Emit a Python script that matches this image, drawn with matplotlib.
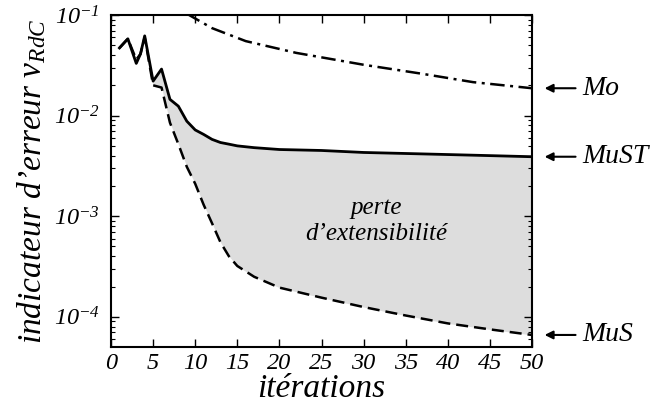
import matplotlib
matplotlib.use('Agg')
import matplotlib.pyplot as plt
from matplotlib.ticker import LogLocator, NullFormatter, FixedLocator

plt.rcParams['font.family'] = ['Liberation Serif', 'DejaVu Serif']
plt.rcParams['font.style'] = 'italic'
plt.rcParams['mathtext.fontset'] = 'custom'
plt.rcParams['mathtext.rm'] = 'Liberation Serif:italic'
plt.rcParams['mathtext.it'] = 'Liberation Serif:italic'
plt.rcParams['mathtext.default'] = 'it'

# données
iterations = [1, 2, 3, 3.5, 4, 5, 6, 7, 8, 9, 10, 11, 12, 13, 14, 15, 17, 20,
              25, 30, 35, 40, 45, 50]
must = [0.047, 0.058, 0.033, 0.041, 0.062, 0.022, 0.029, 0.0145, 0.0124,
        0.0088, 0.0072, 0.0065, 0.0058, 0.0054, 0.0052, 0.0050, 0.0048,
        0.0046, 0.0045, 0.0043, 0.0042, 0.0041, 0.0040, 0.0039]
mus = [0.047, 0.058, 0.036, 0.041, 0.060, 0.020, 0.019, 0.0085, 0.0052,
       0.0031, 0.0021, 0.0013, 8.5e-4, 5.5e-4, 4.0e-4, 3.2e-4, 2.5e-4,
       1.95e-4, 1.55e-4, 1.25e-4, 1.03e-4, 8.6e-5, 7.5e-5, 6.6e-5]
mo_iter = [9, 12, 16, 22, 30, 37, 43, 50]
mo = [0.103, 0.074, 0.055, 0.042, 0.032, 0.026, 0.0215, 0.0187]

xticks = [0, 5, 10, 15, 20, 25, 30, 35, 40, 45, 50]
yticks = [1e-4, 1e-3, 1e-2, 1e-1]
ytick_labels = ['$10^{-4}$', '$10^{-3}$', '$10^{-2}$', '$10^{-1}$']

fig = plt.figure(figsize=(6.62, 4.15), dpi=100)
ax = fig.add_axes([0.1677, 0.1639, 0.6359, 0.8000])

ax.fill_between(iterations, mus, must, color='#dddddd', lw=0)
ax.plot(iterations, must, color='black', lw=2.0)
ax.plot(iterations, mus, color='black', lw=1.8, linestyle=(0, (4.8, 2.4)))
ax.plot(mo_iter, mo, color='black', lw=1.8, linestyle=(0, (5.8, 2.2, 1.2, 2.2)))

ax.set_yscale('log')
ax.set_xlim(0, 50)
ax.set_ylim(10 ** -4.3, 0.1)

ax.xaxis.set_major_locator(FixedLocator(xticks))
ax.set_xticklabels([str(t) for t in xticks])
ax.yaxis.set_major_locator(FixedLocator(yticks))
ax.set_yticklabels(ytick_labels)
ax.yaxis.set_minor_locator(LogLocator(base=10, subs=range(2, 10)))
ax.yaxis.set_minor_formatter(NullFormatter())

ax.tick_params(which='both', direction='in', top=True, right=True,
               labelsize=17.5)
ax.tick_params(axis='x', pad=4)
ax.tick_params(axis='y', pad=8)
ax.tick_params(which='major', length=6, width=1)
ax.tick_params(which='minor', length=3, width=0.8)
for s in ax.spines.values():
    s.set_linewidth(1.5)

ax.set_xlabel('itérations', fontsize=24, labelpad=0)
ax.set_ylabel('indicateur d\u2019erreur $v_{RdC}$', fontsize=24, labelpad=4)

ax.text(31.5, 8.9e-4, 'perte\nd\u2019extensibilit\u00e9', ha='center',
        va='center', fontsize=18, linespacing=1.25)

# étiquettes des courbes à droite
for label, val in [('Mo', 0.0187), ('MuST', 0.0039), ('MuS', 6.6e-5)]:
    ax.annotate(label, xy=(1.03, val), xycoords=('axes fraction', 'data'),
                xytext=(1.12, val), textcoords=('axes fraction', 'data'),
                fontsize=20, va='center', ha='left', annotation_clip=False,
                arrowprops=dict(arrowstyle='-|>', color='black', lw=1.5,
                                mutation_scale=12, shrinkA=3, shrinkB=0))

fig.savefig('out.png', dpi=100)
